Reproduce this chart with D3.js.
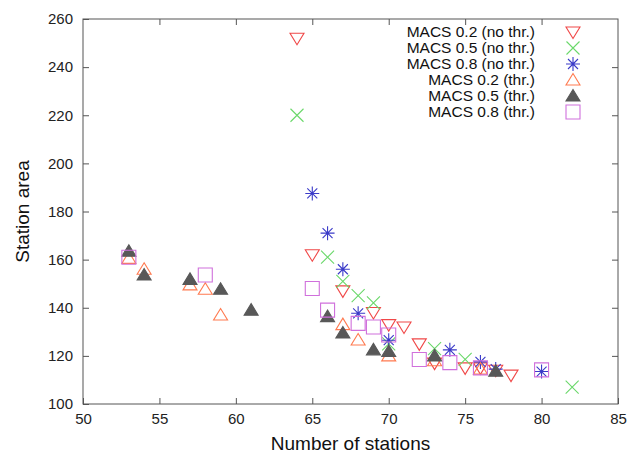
<!DOCTYPE html>
<html>
<head>
<meta charset="utf-8">
<script src="https://cdn.jsdelivr.net/npm/d3@7"></script>
<style>
  body { margin: 0; background: #fff; }
  svg { font-family: "Liberation Sans", Arial, sans-serif; }
</style>
</head>
<body>
<svg id="chart" width="639" height="458"></svg>
<script>
// series: [number of stations, station area]
var macs02NoThr = [[64, 252], [65, 162], [67, 147], [69, 138], [70, 133], [71, 132], [72, 125], [73, 117], [75, 115], [76, 115], [77, 114], [78, 112]];
var macs05NoThr = [[64, 220], [66, 161], [67, 151], [68, 145], [69, 142], [70, 125], [73, 123], [75, 118.5], [82, 107]];
var macs08NoThr = [[65, 187.5], [66, 171], [67, 156], [68, 137.7], [70, 126.5], [74, 122.5], [76, 117.5], [77, 114.5], [80, 113.5]];
var macs02Thr = [[53, 160.5], [54, 156], [57, 149.5], [58, 147.7], [59, 137], [67, 133], [68, 126.6], [70, 120], [73, 118], [76, 114.5]];
var macs05Thr = [[53, 163.5], [54, 153.6], [57, 151.8], [59, 147.7], [61, 139], [66, 136.3], [67, 129.5], [69, 122.5], [70, 121.8], [73, 120], [77, 113.6]];
var macs08Thr = [[53, 161], [58, 153.6], [65, 148], [66, 139], [68, 133.5], [69, 132], [70, 128.7], [72, 118.5], [74, 117.2], [76, 115], [80, 114.2]];

var seriesNames = ["MACS 0.2 (no thr.)", "MACS 0.5 (no thr.)", "MACS 0.8 (no thr.)",
                   "MACS 0.2 (thr.)", "MACS 0.5 (thr.)", "MACS 0.8 (thr.)"];
var seriesData = [macs02NoThr, macs05NoThr, macs08NoThr, macs02Thr, macs05Thr, macs08Thr];

var xTicks = [50, 55, 60, 65, 70, 75, 80, 85];
var yTicks = [100, 120, 140, 160, 180, 200, 220, 240, 260];

// marker styles
var styles = [
  { shape: "triDown", color: "#f04848", fill: "none" },
  { shape: "x", color: "#6ad86a", fill: "none" },
  { shape: "star", color: "#3a3ac8", fill: "none" },
  { shape: "triUp", color: "#ff7a50", fill: "none" },
  { shape: "triUp", color: "#585858", fill: "#585858" },
  { shape: "square", color: "#d070dc", fill: "none" }
];

function markerPath(shape) {
  var p = d3.path();
  switch (shape) {
    case "triUp":
      p.moveTo(0, -6.5); p.lineTo(7, 5); p.lineTo(-7, 5); p.closePath();
      break;
    case "triDown":
      p.moveTo(0, 6.5); p.lineTo(7, -5); p.lineTo(-7, -5); p.closePath();
      break;
    case "x":
      p.moveTo(-6.5, -6.5); p.lineTo(6.5, 6.5);
      p.moveTo(-6.5, 6.5); p.lineTo(6.5, -6.5);
      break;
    case "star":
      p.moveTo(-7, 0); p.lineTo(7, 0);
      p.moveTo(0, -7); p.lineTo(0, 7);
      p.moveTo(-5, -5); p.lineTo(5, 5);
      p.moveTo(-5, 5); p.lineTo(5, -5);
      break;
    case "square":
      p.rect(-7, -7, 14, 14);
      break;
  }
  return p.toString();
}

var margin = { top: 19, right: 21, bottom: 54, left: 83 };
var svg = d3.select("#chart");
var width = 639 - margin.left - margin.right;
var height = 458 - margin.top - margin.bottom;

var x = d3.scaleLinear().domain([50, 85]).range([0, width]);
var y = d3.scaleLinear().domain([100, 260]).range([height, 0]);

var g = svg.append("g").attr("transform", "translate(" + margin.left + "," + margin.top + ")");

var axisColor = "#555";

// axes with inward ticks, mirrored on top and right
g.append("g").attr("transform", "translate(0," + height + ")")
  .call(d3.axisBottom(x).tickValues(xTicks).tickSizeInner(-6).tickSizeOuter(0).tickPadding(9));
g.append("g")
  .call(d3.axisLeft(y).tickValues(yTicks).tickSizeInner(-6).tickSizeOuter(0).tickPadding(10));
g.append("g")
  .call(d3.axisTop(x).tickValues(xTicks.slice(1, -1)).tickSizeInner(-6).tickSizeOuter(0).tickFormat(""));
g.append("g").attr("transform", "translate(" + width + ",0)")
  .call(d3.axisRight(y).tickValues(yTicks.slice(1, -1)).tickSizeInner(-6).tickSizeOuter(0).tickFormat(""));

g.selectAll(".domain").remove();
g.selectAll(".tick line").attr("stroke", axisColor);
g.selectAll(".tick text").attr("fill", "#222").style("font-size", "15px");

g.append("rect")
  .attr("width", width).attr("height", height)
  .attr("fill", "none").attr("stroke", axisColor).attr("stroke-width", 1);

// axis titles
svg.append("text")
  .attr("x", margin.left + width / 2).attr("y", 450)
  .attr("text-anchor", "middle").attr("fill", "#111")
  .style("font-size", "19px")
  .text("Number of stations");

svg.append("text")
  .attr("transform", "translate(29," + (margin.top + height / 2) + ") rotate(-90)")
  .attr("text-anchor", "middle").attr("fill", "#111")
  .style("font-size", "19px")
  .text("Station area");

// points
seriesData.forEach(function (data, i) {
  var st = styles[i];
  g.append("g").selectAll("path")
    .data(data)
    .enter().append("path")
    .attr("transform", function (d) { return "translate(" + x(d[0]) + "," + y(d[1]) + ")"; })
    .attr("d", markerPath(st.shape))
    .attr("fill", st.fill)
    .attr("stroke", st.color)
    .attr("stroke-width", 1.1);
});

// legend
var legend = svg.append("g").attr("transform", "translate(0,32)");
seriesNames.forEach(function (name, i) {
  var st = styles[i];
  var row = legend.append("g").attr("transform", "translate(0," + (i * 16) + ")");
  row.append("text")
    .attr("x", 535).attr("y", 5)
    .attr("text-anchor", "end").attr("fill", "#111")
    .style("font-size", "15.5px")
    .text(name);
  row.append("path")
    .attr("transform", "translate(573,0)")
    .attr("d", markerPath(st.shape))
    .attr("fill", st.fill)
    .attr("stroke", st.color)
    .attr("stroke-width", 1.1);
});
</script>
</body>
</html>
